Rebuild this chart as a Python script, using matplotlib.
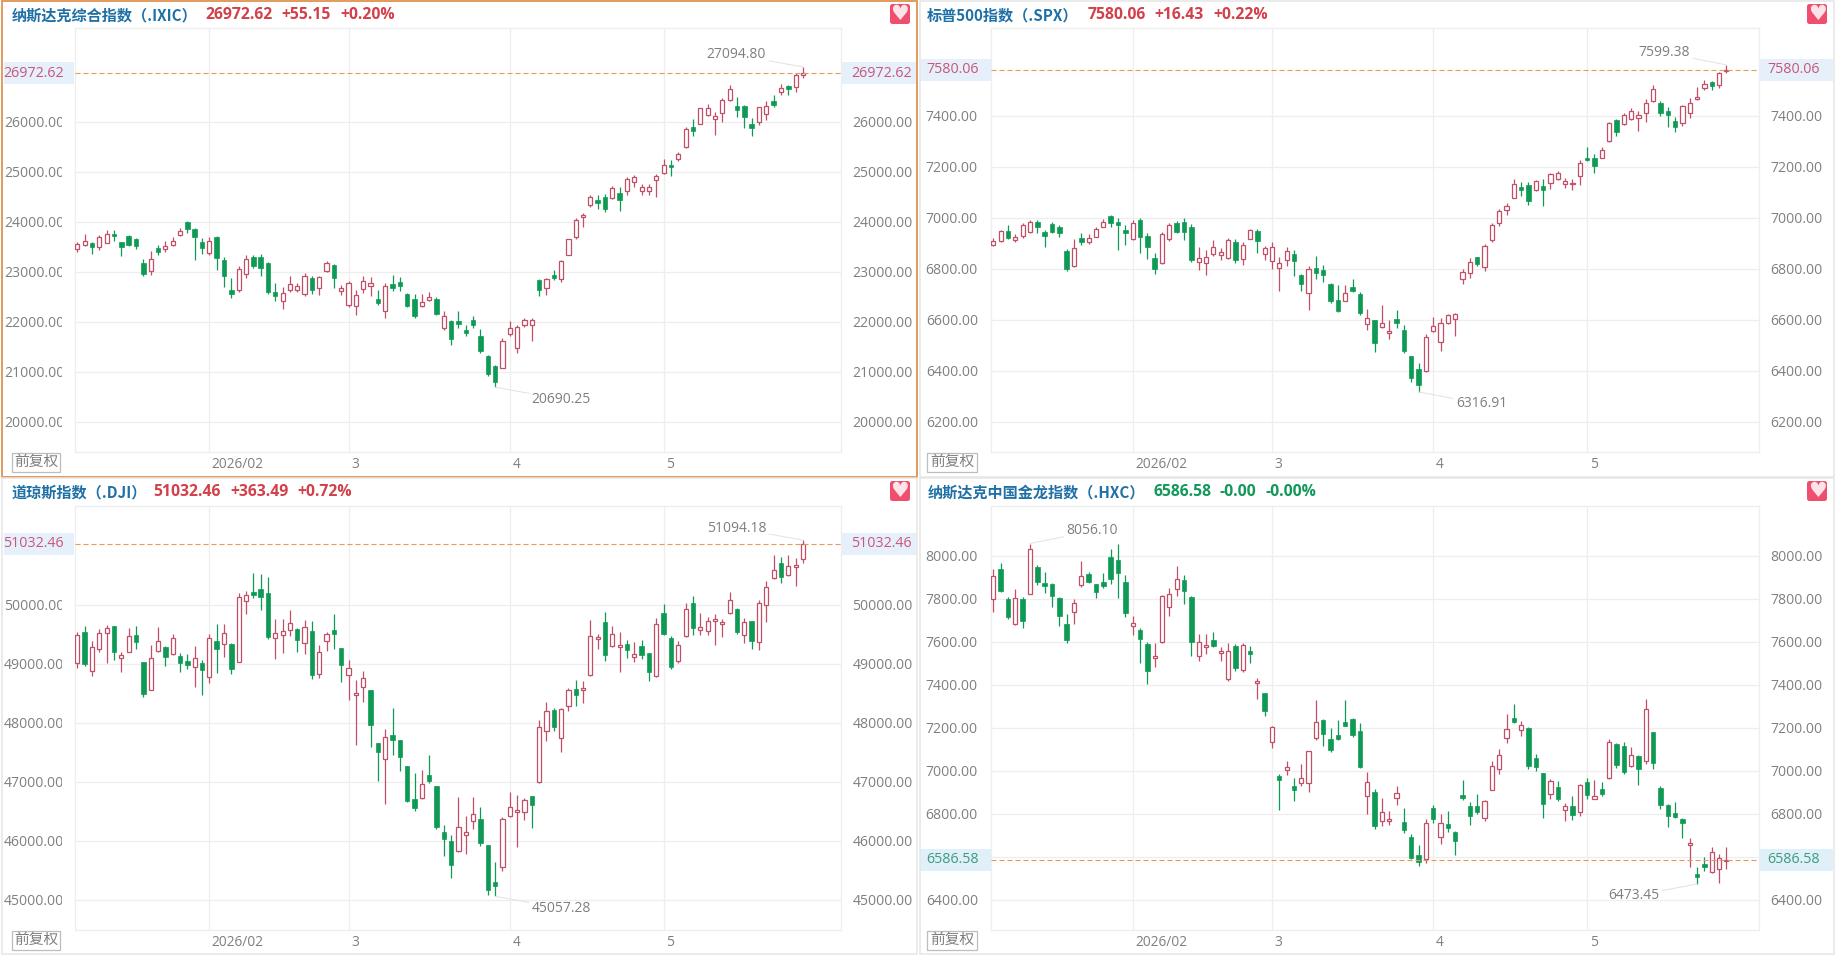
import matplotlib
matplotlib.use("Agg")
import matplotlib.pyplot as plt
import numpy as np
from matplotlib.patches import Rectangle, FancyBboxPatch
from matplotlib.transforms import Affine2D, Bbox
from matplotlib.ticker import FormatStrFormatter

# ---------- data ----------
ixic_open = [23447,23533,23567,23500,23580,23747,23587,23707,23653,23167,
 23020,23473,23453,23533,23733,23987,23847,23587,23367,23693,
 23227,22627,22633,22953,23287,23287,23173,22587,22407,22640,
 22633,22553,22873,22667,23020,23127,22613,22340,22307,22647,
 22720,22453,22207,22747,22787,22547,22447,22320,22440,22447,
 21873,22013,22013,21833,22033,21707,21313,21113,21080,21753,
 21480,21940,21940,22840,22667,22940,22860,23340,23700,24087,
 24340,24433,24487,24480,24567,24620,24800,24607,24607,24840,
 24973,25133,25253,25493,25900,25960,26140,26060,26167,26440,
 26307,26313,25953,26000,26160,26407,26600,26713,26700,26940]
ixic_close = [23560,23607,23500,23687,23747,23707,23493,23533,23520,22953,
 23247,23393,23520,23620,23820,23860,23700,23480,23607,23267,
 22913,22553,23047,23247,23113,23080,22593,22513,22580,22760,
 22707,22907,22633,22887,23173,22880,22673,22767,22527,22820,
 22767,22373,22713,22680,22707,22320,22113,22387,22487,22160,
 22107,21660,21953,21767,21933,21413,20953,20800,21607,21867,
 21887,22027,22027,22640,22847,22873,23207,23647,24033,24127,
 24487,24380,24253,24667,24440,24853,24900,24687,24687,24913,
 25127,25087,25347,25847,25820,26267,26280,26113,26427,26647,
 26240,26100,25873,26287,26307,26327,26673,26647,26927,26972.62]
ixic_high = [23587,23747,23587,23733,23827,23833,23593,23740,23673,23247,
 23413,23527,23620,23700,23880,24013,23873,23680,23700,23707,
 23287,22867,23113,23327,23327,23353,23193,22767,22700,22913,
 22780,22967,22907,22913,23213,23147,22740,22820,22633,22913,
 22900,22633,22767,22927,22900,22567,22553,22553,22593,22487,
 22213,22033,22213,21933,22113,21847,21333,21133,21667,22013,
 21933,22073,22080,22853,22880,23033,23233,23660,24073,24167,
 24527,24533,24547,24707,24687,24887,24933,24753,24753,24953,
 25247,25233,25393,25893,26053,26280,26360,26200,26480,26727,
 26487,26333,26067,26300,26420,26527,26747,26740,26967,27094.80]
ixic_low = [23400,23520,23353,23440,23567,23620,23313,23520,23460,22913,
 22933,23333,23393,23513,23707,23773,23233,23353,23333,23033,
 22687,22480,22593,22873,23080,22913,22560,22413,22253,22600,
 22600,22513,22560,22533,23000,22667,22533,22300,22133,22567,
 22513,22333,22073,22613,22613,22300,22073,22300,22413,22133,
 21840,21533,21873,21720,21873,21380,20920,20690.25,21067,21720,
 21380,21887,21613,22513,22533,22833,22800,23333,23660,23900,
 24293,24247,24193,24447,24220,24533,24700,24540,24540,24500,
 24953,24913,25220,25480,25713,25947,26120,25733,26000,26420,
 26087,25880,25713,25933,26033,26293,26533,26533,26593,26867]

spx_open = [6893,6908,6946,6914,6929,6945,6983,6942,6975,6963,
 6869,6812,6919,6906,6925,6965,7005,6982,6952,6918,
 6991,6927,6840,6821,6918,6978,6983,6962,6826,6823,
 6857,6855,6843,6903,6839,6918,6948,6859,6829,6804,
 6835,6857,6775,6703,6801,6795,6741,6676,6674,6727,
 6701,6584,6597,6571,6546,6603,6559,6456,6407,6397,
 6557,6514,6588,6604,6758,6784,6844,6808,6912,6980,
 7030,7078,7120,7127,7107,7123,7137,7151,7133,7131,
 7165,7236,7234,7235,7299,7382,7366,7387,7392,7412,
 7456,7448,7417,7378,7372,7412,7466,7510,7531,7521,7574]
spx_close = [6907,6946,6921,6924,6970,6983,6965,6929,6944,6941,
 6800,6880,6906,6919,6954,6982,6980,6971,6941,6979,
 6923,6886,6800,6935,6970,6944,6945,6834,6840,6847,
 6884,6864,6911,6836,6891,6950,6908,6882,6885,6821,
 6870,6831,6740,6797,6783,6776,6674,6634,6703,6712,
 6627,6608,6510,6587,6557,6586,6478,6373,6345,6531,
 6576,6587,6618,6621,6786,6827,6818,6889,6971,7025,
 7044,7131,7110,7067,7142,7110,7170,7176,7142,7138,
 7213,7226,7204,7264,7370,7336,7401,7417,7404,7448,
 7503,7412,7404,7357,7438,7448,7474,7523,7516,7566,7580.06]
spx_high = [6921,6952,6970,6935,6980,6989,6989,6950,6983,6970,
 6876,6915,6938,6935,6965,6993,7009,6997,6971,6991,
 6997,6938,6860,6945,6980,6987,6997,6976,6885,6873,
 6911,6882,6919,6918,6903,6954,6954,6889,6903,6844,
 6887,6873,6778,6812,6850,6813,6742,6736,6736,6758,
 6707,6640,6599,6657,6599,6638,6578,6457,6429,6542,
 6612,6605,6622,6625,6797,6840,6847,6895,6978,7033,
 7056,7151,7141,7141,7148,7151,7176,7183,7154,7151,
 7225,7277,7250,7277,7374,7389,7409,7432,7417,7464,
 7520,7456,7435,7396,7443,7468,7511,7542,7536,7572,7599.38]
spx_low = [6890,6906,6918,6903,6919,6938,6941,6886,6941,6925,
 6792,6808,6893,6898,6923,6962,6965,6873,6893,6914,
 6860,6838,6780,6818,6907,6941,6912,6827,6795,6775,
 6850,6834,6839,6822,6814,6915,6860,6834,6797,6712,
 6810,6771,6712,6638,6758,6746,6667,6629,6673,6708,
 6618,6559,6473,6569,6524,6567,6471,6356,6316.91,6395,
 6553,6478,6582,6537,6740,6765,6812,6792,6906,6967,
 7012,7076,7086,7050,7105,7046,7112,7148,7116,7108,
 7127,7223,7175,7233,7297,7320,7362,7383,7341,7376,
 7452,7399,7357,7336,7359,7392,7463,7500,7500,7508,7567]

dji_open = [49006,49531,48870,49243,49514,49639,49102,49204,49480,49023,
 48560,49209,49283,49158,49125,49045,48949,49012,48780,49379,
 49339,49334,49034,50057,50215,50260,50192,49441,49492,49577,
 49582,49345,49548,48831,49379,49565,49260,48802,48475,48599,
 48548,47650,47379,47785,47706,47260,46701,46718,47113,46921,
 46141,45994,45819,46090,46328,46362,45921,45294,45548,46413,
 46480,46480,46752,46989,47853,48209,47735,48288,48565,48548,
 48802,49413,49701,49294,49277,49328,49119,49294,49175,48786,
 49853,49430,49051,49464,50023,49577,49560,49729,49667,49853,
 49932,49492,49718,49362,50000,50447,50701,50497,50633,50780]
dji_close = [49480,48995,49277,49514,49599,49204,49153,49464,49373,48492,
 49091,49390,49108,49430,49017,48978,49091,48899,49430,49254,
 49514,48915,50125,50158,50170,50136,49458,49514,49548,49684,
 49407,49627,48808,49192,49503,49509,48983,48921,48509,48752,
 47966,47503,47752,47712,47424,46678,46559,46955,47006,46237,
 46034,45593,46226,46141,46446,45966,45170,45226,46362,46576,
 46514,46684,46599,47921,48192,47932,48232,48548,48475,48593,
 49464,49458,49153,49497,49322,49238,49170,49153,48865,49667,
 49509,48938,49311,49921,49610,49616,49718,49763,49701,50074,
 49543,49701,49379,50023,50294,50594,50469,50661,50678,51032.46]
dji_high = [49531,49633,49379,49582,49650,49639,49204,49605,49639,49028,
 49311,49622,49294,49503,49181,49158,49305,49057,49503,49673,
 49673,49356,50192,50226,50537,50520,50469,49757,49757,49910,
 49605,49735,49723,49311,49537,49842,49260,49068,48723,48870,
 48554,47656,47887,48249,47712,47266,47147,47198,47452,46927,
 46266,46090,46740,46418,46734,46565,45927,45638,46396,46819,
 46774,46718,46752,48040,48345,48249,48249,48588,48718,48701,
 49735,49503,49876,49633,49537,49407,49367,49396,49187,49769,
 50012,49464,49379,50023,50147,49853,49786,49842,49763,50215,
 49938,49769,49723,50074,50396,50836,50803,50836,50791,51094.18]
dji_low = [48927,48966,48797,49204,49012,49062,48859,49198,49249,48435,
 48554,49198,48966,49147,48859,48915,48605,48475,48678,48842,
 49113,48831,49028,49842,50113,49910,49418,49079,49181,49475,
 49198,49164,48740,48757,49221,49243,48695,48384,47622,48350,
 47588,47006,46622,47446,47187,46655,46509,46707,46983,46203,
 45740,45373,45814,45774,46203,45910,45075,45057.28,45492,46401,
 45893,46356,46215,46983,47689,47865,47503,48198,48283,48334,
 48797,49243,49045,49283,48859,49096,49028,49079,48712,48774,
 49492,48915,49017,49458,49486,49486,49486,49317,49452,49848,
 49503,49356,49249,49232,49706,50435,50368,50486,50317,50712]

hxc_open = [7797,7938,7800,7683,7800,7823,7947,7873,7868,7803,
 7682,7739,7865,7916,7868,7876,7993,7978,7876,7671,
 7654,7590,7522,7597,7759,7843,7885,7807,7535,7576,
 7606,7545,7425,7580,7468,7556,7406,7359,7132,6975,
 7005,6927,6943,6941,7153,7234,7146,7164,7225,7239,
 7183,6881,6899,6764,6764,6871,6760,6690,6609,6591,
 6825,6690,6750,6713,6885,6834,6834,6778,6912,7006,
 7150,7243,7187,7197,7057,6987,6890,6922,6819,6834,
 6806,6947,6870,6913,6964,7122,7113,7022,7068,7045,
 7178,6919,6842,6803,6775,6653,6518,6566,6529,6541,6578]
hxc_close = [7904,7835,7716,7801,7697,8031,7877,7860,7814,7721,
 7609,7778,7904,7877,7831,7860,7893,7919,7735,7685,
 7612,7465,7532,7812,7820,7890,7837,7600,7597,7586,
 7581,7558,7555,7479,7584,7544,7417,7279,7203,6958,
 7017,6912,6964,7090,7225,7172,7098,7149,7209,7167,
 7018,6949,6744,6806,6774,6898,6726,6594,6574,6755,
 6777,6755,6735,6674,6873,6788,6808,6857,7020,7071,
 7195,7226,7211,7023,7018,6846,6953,6868,6837,6795,
 6933,6888,6884,6893,7132,7028,6994,7071,7009,7285,
 7037,6842,6791,6784,6758,6664,6505,6552,6620,6592,6586.58]
hxc_high = [7938,7966,7806,7845,7806,8056.10,7956,7924,7874,7809,
 7728,7800,7973,7924,7869,7917,8031,8054,7908,7718,
 7665,7597,7594,7818,7848,7952,7908,7811,7635,7635,
 7643,7573,7594,7587,7592,7578,7431,7363,7209,6983,
 7045,6966,7031,7093,7328,7239,7198,7234,7328,7243,
 7220,6994,6913,6873,6811,6927,6826,6708,6653,6775,
 6842,6800,6812,6721,6955,6854,6891,6865,7043,7101,
 7263,7310,7229,7201,7077,6989,6961,6953,6850,6881,
 6939,6966,6958,6947,7149,7127,7132,7110,7074,7333,
 7178,6927,6845,6854,6780,6687,6552,6597,6643,6615,6645]
hxc_low = [7738,7831,7707,7679,7663,7821,7865,7826,7761,7673,
 7594,7682,7855,7871,7803,7851,7868,7803,7716,7632,
 7501,7403,7482,7595,7721,7812,7775,7535,7511,7542,
 7576,7510,7418,7463,7460,7501,7335,7256,7105,6817,
 6981,6860,6930,6901,7144,7116,7088,7144,7207,7158,
 7012,6800,6730,6743,6749,6840,6710,6591,6558,6572,
 6758,6659,6713,6609,6865,6747,6800,6766,6910,6986,
 7129,7222,7163,7008,6998,6780,6868,6860,6766,6772,
 6789,6870,6868,6882,6961,7014,6984,7018,6935,7031,
 7006,6822,6738,6780,6688,6552,6473.45,6535,6526,6479,6543]

ixic_ticks = [20000,21000,22000,23000,24000,25000,26000]
spx_ticks = [6200,6400,6600,6800,7000,7200,7400]
dji_ticks = [45000,46000,47000,48000,49000,50000]
hxc_ticks = [6400,6600,6800,7000,7200,7400,7600,7800,8000]
date_labels = ['2026/02', '3', '4', '5']
left_date_pos = [18, 37, 59, 80]
right_date_pos = [19, 38, 60, 81]

# ---------- style ----------
W, H, DPI = 1845, 955, 100
UP = '#c04f67'
DOWN = '#0e9a54'
GRID = '#eeeeee'
GRAY = '#7f7f7f'
BLUE = '#1f70a6'
RED = '#d2404a'
GREEN = '#12985a'
CJK = ['Noto Sans CJK SC', 'DejaVu Sans']
LAT = ['Open Sans', 'DejaVu Sans']
plt.rcParams['font.family'] = LAT

fig = plt.figure(figsize=(W / DPI, H / DPI), dpi=DPI, facecolor='white')
PX = Affine2D().scale(1, -1).translate(0, H)


def rect(x0, y0, x1, y1, **kw):
    fig.add_artist(Rectangle((x0, y0), x1 - x0, y1 - y0, transform=PX, **kw))


def label(x, y, s, **kw):
    kw.setdefault('va', 'center')
    fig.text(x, y, s, transform=PX, **kw)


panels = [
    dict(o=ixic_open, h=ixic_high, l=ixic_low, c=ixic_close, ticks=ixic_ticks, dates=left_date_pos,
         box=(74.7, 28, 841, 452), ylim=(19394, 27874), xlim=(-0.355, 104.18),
         frame=(2, 1, 917, 477), frame_col='#e39a5c', clip=61.6, lshift=1.0,
         title='纳斯达克综合指数（.IXIC）', tx=11.5, ty=15,
         head=[('26972.62', 205), ('+55.15', 281.5), ('+0.20%', 340.5)], head_col=RED,
         price=26972.62, price_col='#c9557c', badge='#e6f0fb',
         bl=(4, 74, 33.5), br=(842, 916, 881.5), heart=(900, 14), btn=(12, 60, 452.7, 472),
         hi=(99, 27094.80, -66.6, 12), lo=(57, 20690.25, 66, -12)),
    dict(o=spx_open, h=spx_high, l=spx_low, c=spx_close, ticks=spx_ticks, dates=right_date_pos,
         box=(990.7, 28, 1758.7, 452), ylim=(6081, 7744), xlim=(-0.355, 104.4),
         frame=(920, 1, 1834, 477), frame_col='#e6e6e6', clip=None, lshift=-1.2,
         title='标普500指数（.SPX）', tx=927, ty=15,
         head=[('7580.06', 1087.5), ('+16.43', 1154.5), ('+0.22%', 1213.5)], head_col=RED,
         price=7580.06, price_col='#c9557c', badge='#e6f0fb',
         bl=(920, 990.7, 953), br=(1758.7, 1833, 1794), heart=(1817, 14), btn=(927.3, 976.7, 452.7, 472),
         hi=(100, 7599.38, -62, 12), lo=(58, 6316.91, 63, -12)),
    dict(o=dji_open, h=dji_high, l=dji_low, c=dji_close, ticks=dji_ticks, dates=left_date_pos,
         box=(74.7, 505.7, 841, 930.3), ylim=(44481, 51678), xlim=(-0.355, 104.18),
         frame=(2, 478, 917, 954), frame_col='#e6e6e6', clip=61.6, lshift=1.0,
         title='道琼斯指数（.DJI）', tx=11.5, ty=492,
         head=[('51032.46', 153.5), ('+363.49', 230), ('+0.72%', 297.5)], head_col=RED,
         price=51032.46, price_col='#c9557c', badge='#e6f0fb',
         bl=(4, 74, 33.5), br=(842, 916, 881.5), heart=(900, 491), btn=(12, 60, 930.7, 950),
         hi=(99, 51094.18, -66.6, 12), lo=(57, 45057.28, 66, -12)),
    dict(o=hxc_open, h=hxc_high, l=hxc_low, c=hxc_close, ticks=hxc_ticks, dates=right_date_pos,
         box=(990.7, 505.7, 1758.7, 930.3), ylim=(6258, 8232), xlim=(-0.355, 104.4),
         frame=(920, 478, 1834, 954), frame_col='#e6e6e6', clip=None, lshift=-1.2,
         title='纳斯达克中国金龙指数（.HXC）', tx=927.5, ty=492,
         head=[('6586.58', 1153.5), ('-0.00', 1220), ('-0.00%', 1266)], head_col=GREEN,
         price=6586.58, price_col='#3d9c7c', badge='#dff0f8',
         bl=(920, 990.7, 953), br=(1758.7, 1833, 1794), heart=(1817, 491), btn=(927.3, 976.7, 930.7, 950),
         hi=(5, 8056.10, 62, 12.6), lo=(96, 6473.45, -63, -12)),
]

for p in panels:
    # panel frame
    fx0, fy0, fx1, fy1 = p['frame']
    rect(fx0, fy0, fx1, fy1, fill=False, ec=p['frame_col'], lw=1.1 if p['frame_col'] != '#e39a5c' else 1.4,
         zorder=5)

    l, t, r, b = p['box']
    ax = fig.add_axes([l / W, 1 - b / H, (r - l) / W, (b - t) / H], facecolor='white')
    ax.set_xlim(*p['xlim'])
    ax.set_ylim(*p['ylim'])
    for s in ax.spines.values():
        s.set_color(GRID)
        s.set_linewidth(0.9)
    ax.set_axisbelow(True)
    ax.grid(True, color=GRID, lw=0.9)

    # candles
    o, hi, lo, c = map(np.array, (p['o'], p['h'], p['l'], p['c']))
    xs = np.arange(len(o))
    up = c >= o
    ax.vlines(xs[up], lo[up], hi[up], color=UP, lw=0.9, zorder=2)
    ax.vlines(xs[~up], lo[~up], hi[~up], color=DOWN, lw=0.9, zorder=2)
    ax.bar(xs[up], (c - o)[up], bottom=o[up], width=0.56, facecolor='white', edgecolor=UP, linewidth=0.9, zorder=3)
    ax.bar(xs[~up], (o - c)[~up], bottom=c[~up], width=0.62, facecolor=DOWN, edgecolor=DOWN, linewidth=0.5, zorder=3)

    # last price line
    ax.axhline(p['price'], color='#e39a5c', lw=0.8, dashes=(4.6, 2.6), zorder=4)

    # axes ticks
    ax.set_yticks(p['ticks'])
    ax.yaxis.set_major_formatter(FormatStrFormatter('%.2f'))
    ax.tick_params(axis='y', length=0, labelleft=True, labelright=True, pad=8.3, labelsize=10.1, labelcolor=GRAY)
    for tick in ax.yaxis.get_major_ticks():
        tick.label1.set_transform(tick.label1.get_transform() + Affine2D().translate(p['lshift'], 0))
        if p['clip'] is not None:
            tick.label1.set_clip_box(Bbox([[0, 0], [p['clip'], H]]))
            tick.label1.set_clip_on(True)
    ax.set_xticks(p['dates'])
    ax.set_xticklabels(date_labels, ha='left')
    ax.tick_params(axis='x', length=0, pad=3.4, labelsize=9.9, labelcolor=GRAY)
    for lab in ax.get_xticklabels():
        lab.set_transform(lab.get_transform() + Affine2D().translate(2.5, 0))

    # extreme callouts
    for key in ('hi', 'lo'):
        i, v, dx, dy = p[key]
        ax.annotate(f'{v:.2f}', xy=(i, v), xytext=(dx, dy), textcoords='offset pixels',
                    ha='center', va='center', fontsize=10.0, color=GRAY, zorder=6,
                    arrowprops=dict(arrowstyle='-', color='#e2e2e2', lw=0.7, shrinkA=0, shrinkB=0))

    # header
    label(p['tx'], p['ty'], p['title'], family=CJK, fontsize=10.9, fontweight='bold', color=BLUE)
    for s, x in p['head']:
        label(x, p['ty'], s, family=LAT, fontsize=11.3, fontweight='bold', color=p['head_col'])

    # price badges
    yc = b - (p['price'] - p['ylim'][0]) / (p['ylim'][1] - p['ylim'][0]) * (b - t)
    for side in ('bl', 'br'):
        x0, x1, xc = p[side]
        rect(x0, yc - 11, x1, yc + 11, fc=p['badge'], ec='none', zorder=1)
        label(xc, yc, f"{p['price']:.2f}", ha='center', fontsize=10.3, color=p['price_col'], zorder=6)

    # heart icon
    hx, hy = p['heart']
    fig.add_artist(FancyBboxPatch((hx - 10, hy - 10), 20, 20, boxstyle='round,pad=0,rounding_size=2.5',
                                  fc='#ef4e6f', ec='none', transform=PX, zorder=5))
    label(hx, hy, '♥', ha='center', family='DejaVu Sans', fontsize=15, color='#fbe3e8', zorder=6)

    # button
    x0, x1, y0, y1 = p['btn']
    rect(x0, y0, x1, y1, fc='white', ec='#bdbdbd', lw=0.9, zorder=5)
    label((x0 + x1) / 2, (y0 + y1) / 2, '前复权', ha='center', family=CJK, fontsize=10.6, color=GRAY, zorder=6)

fig.savefig('out.png', dpi=DPI)
